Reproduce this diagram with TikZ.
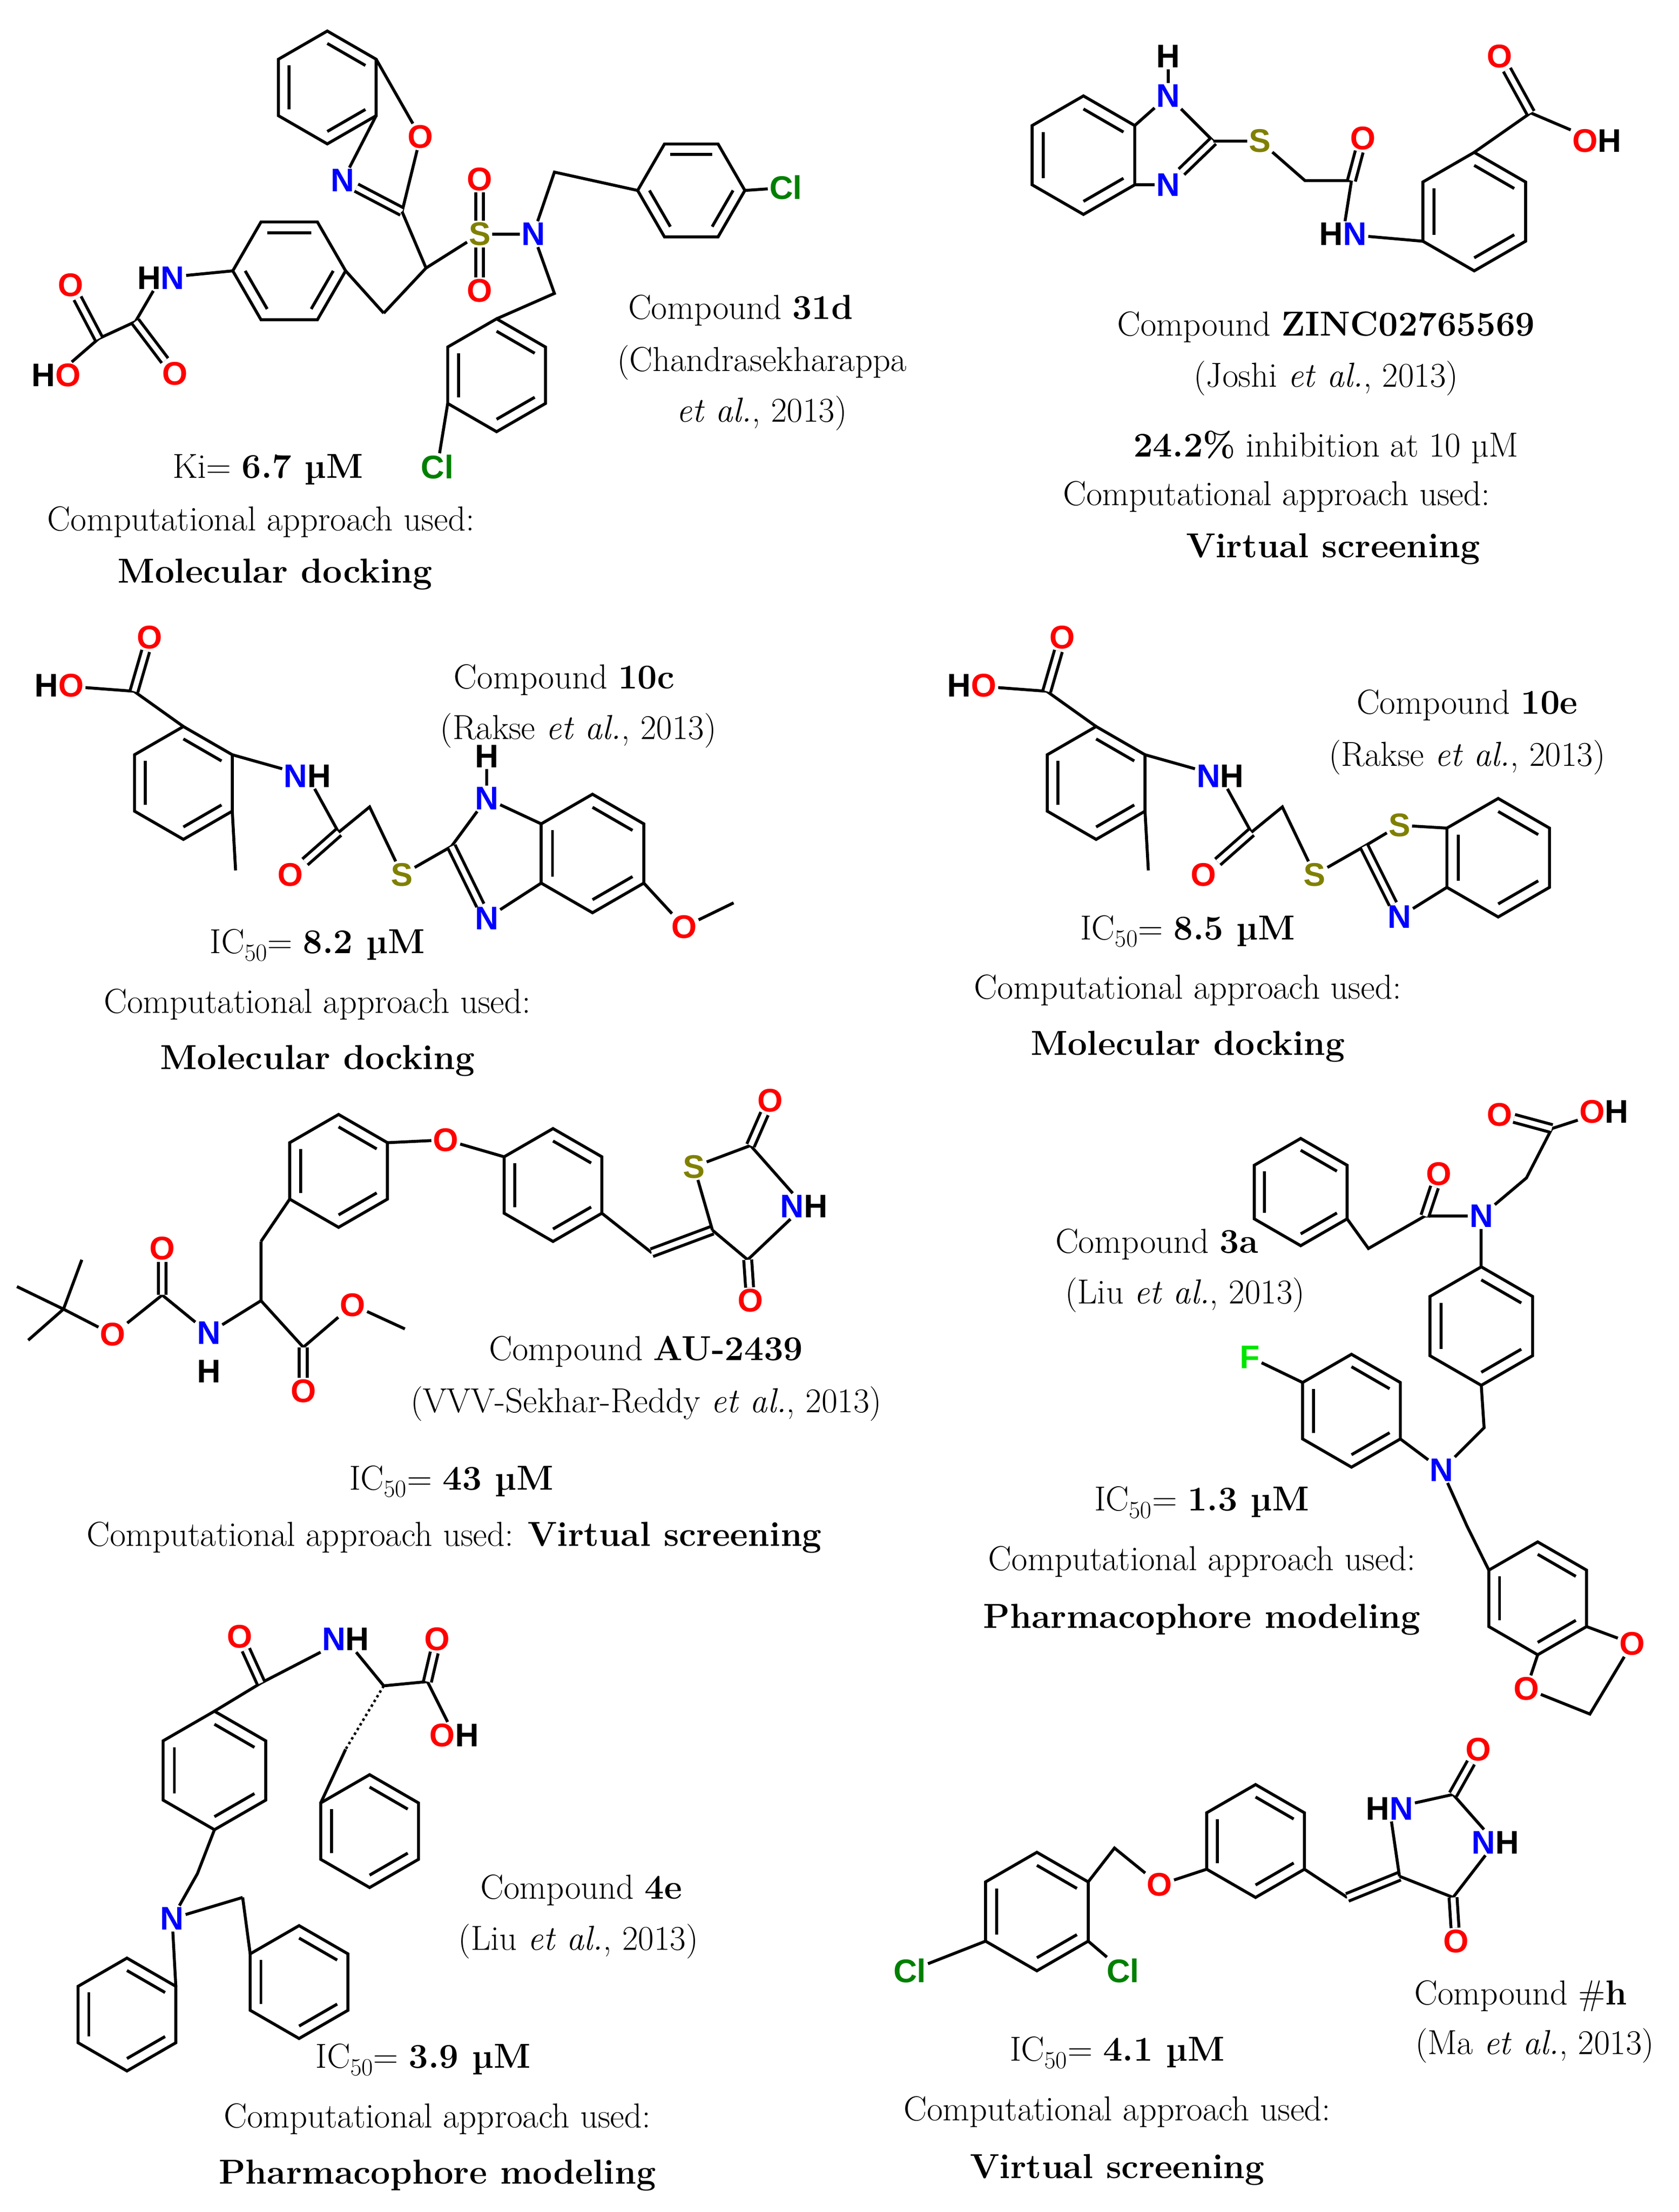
\documentclass[tikz,border=0pt]{standalone}
\usepackage{fontspec}
\usetikzlibrary{calc}
\newfontfamily\af{Liberation Sans}
\newcommand\AF{\af\bfseries\fontsize{33}{33}\selectfont}
\newcommand\TF{\fontsize{35}{40}\selectfont}
\definecolor{Oc}{RGB}{255,0,0}
\definecolor{Nc}{RGB}{0,0,255}
\definecolor{Sc}{RGB}{128,128,0}
\definecolor{Clc}{RGB}{0,128,0}
\definecolor{Fc}{RGB}{0,230,0}
\tikzset{bond/.style={line width=3pt},
 dbl/.style={line width=3pt,double,double distance=5pt},
 atm/.style={font=\AF,inner sep=1.5pt},
 tx/.style={font=\TF,inner sep=0pt}}
\newcommand\hexr[4]{%
 \foreach \k in {1,...,6}{\coordinate (#1-\k) at ($(#2,#3)+({30+60*(\k-1)}:#4)$);}
 \draw[bond] (#1-1)--(#1-2)--(#1-3)--(#1-4)--(#1-5)--(#1-6)--cycle;
 \foreach \k/\j in {1/2,3/4,5/6}{\draw[bond] ($(#2,#3)!0.78!(#1-\k)$)--($(#2,#3)!0.78!(#1-\j)$);}}
\newcommand\hexz[4]{%
 \foreach \k in {1,...,6}{\coordinate (#1-\k) at ($(#2,#3)+({60*(\k-1)}:#4)$);}
 \draw[bond] (#1-1)--(#1-2)--(#1-3)--(#1-4)--(#1-5)--(#1-6)--cycle;
 \foreach \k/\j in {1/2,3/4,5/6}{\draw[bond] ($(#2,#3)!0.78!(#1-\k)$)--($(#2,#3)!0.78!(#1-\j)$);}}
\begin{document}
\begin{tikzpicture}[x=0.05cm,y=-0.05cm]
\useasboundingbox[fill=white] (0,0) rectangle (1190,1568);
% ===== Mol 1 (31d)
\hexr{a}{232}{62}{40}
\node[atm,Oc] (a1o) at (298,97) {O};
\node[atm,Nc] (a1n) at (243,128) {N};
\coordinate (a1c2) at (285,150);
\draw[bond] (a-6)--(a1o)--(a1c2); \draw[bond] (a-1)--(a1n); \draw[dbl] (a1n)--(a1c2);
\coordinate (a1ch) at (302,190); \coordinate (a1ch2) at (272,222);
\node[atm,Sc] (a1s) at (340,166) {S};
\node[atm,Oc] (a1so1) at (340,127) {O};
\node[atm,Oc] (a1so2) at (340,206) {O};
\node[atm,Nc] (a1n2) at (378,166) {N};
\draw[bond] (a1c2)--(a1ch)--(a1s)--(a1n2); \draw[bond] (a1ch)--(a1ch2);
\draw[dbl] (a1s)--(a1so1); \draw[dbl] (a1s)--(a1so2);
\hexz{b}{205}{192}{40}
\draw[bond] (a1ch2)--(b-1);
\node[atm] (a1nh) at (114,197) {H\textcolor{Nc}{N}};
\draw[bond] (b-4)--(a1nh);
\coordinate (a1ca) at (96,228); \coordinate (a1cb) at (70,240);
\node[atm,Oc] (a1oa) at (124,265) {O};
\node[atm,Oc] (a1ob) at (50,202) {O};
\node[atm] (a1oh) at (40,266) {H\textcolor{Oc}{O}};
\draw[bond] (a1nh)--(a1ca)--(a1cb)--(a1oh); \draw[dbl] (a1ca)--(a1oa); \draw[dbl] (a1cb)--(a1ob);
\coordinate (a1m1) at (393,122); \coordinate (a1m2) at (393,208);
\hexz{c}{490}{135}{38}
\draw[bond] (a1n2)--(a1m1)--(c-4);
\node[atm,Clc] (a1cl1) at (557,133) {Cl}; \draw[bond] (c-1)--(a1cl1);
\hexr{d}{352}{266}{40}
\draw[bond] (a1n2)--(a1m2)--(d-5);
\node[atm,Clc] (a1cl2) at (310,331) {Cl}; \draw[bond] (d-3)--(a1cl2);
\node[tx] (t1a) at (525,220) {Compound \textbf{31d}};
\node[tx] (t1b) at (540,257) {(Chandrasekharappa};
\node[tx] (t1c) at (540,293) {\textit{et al.}, 2013)};
\node[tx] (t1d) at (190,333) {Ki= \textbf{6.7 µM}};
\node[tx] (t1e) at (185,370) {Computational approach used:};
\node[tx] (t1f) at (195,407) {\textbf{Molecular docking}};
% ===== Mol 2 (ZINC)
\hexr{e}{768}{110}{42}
\node[atm,Nc] (e1n) at (828,68) {N}; \node[atm] (e1h) at (828,40) {H};
\node[atm,Nc] (e3n) at (828,131) {N};
\coordinate (e2c) at (860,100);
\draw[bond] (e-6)--(e1n)--(e2c); \draw[bond] (e-1)--(e3n); \draw[dbl] (e3n)--(e2c); \draw[bond](e1n)--(e1h);
\node[atm,Sc] (e1s) at (893,100) {S};
\coordinate (e1m) at (925,128); \coordinate (e1c) at (958,128);
\node[atm,Oc] (e1o) at (966,98) {O};
\node[atm] (e1nh) at (952,166) {H\textcolor{Nc}{N}};
\draw[bond] (e2c)--(e1s)--(e1m)--(e1c)--(e1nh); \draw[dbl] (e1c)--(e1o);
\hexr{f}{1045}{150}{42}
\draw[bond] (e1nh)--(f-3);
\coordinate (f1c) at (1085,80);
\node[atm,Oc] (f1o) at (1063,40) {O};
\node[atm] (f1oh) at (1132,100) {\textcolor{Oc}{O}H};
\draw[bond] (f-5)--(f1c)--(f1oh); \draw[dbl] (f1c)--(f1o);
\node[tx] (t2a) at (940,232) {Compound \textbf{ZINC02765569}};
\node[tx] (t2b) at (940,268) {(Joshi \textit{et al.}, 2013)};
\node[tx] (t2c) at (940,317) {\textbf{24.2\%} inhibition at 10 µM};
\node[tx] (t2d) at (905,352) {Computational approach used:};
\node[tx] (t2e) at (945,389) {\textbf{Virtual screening}};
% ===== Mol 3 (10c) and Mol 4 (10e)
\foreach \dx/\nm in {0/g,647/h}{
\begin{scope}[xshift=\dx*0.05cm]
\hexr{\nm}{130}{555}{40}
\coordinate (\nm c) at (95,490);
\node[atm] (\nm oh) at (42,486) {H\textcolor{Oc}{O}};
\node[atm,Oc] (\nm o) at (106,452) {O};
\draw[bond] (\nm-5)--(\nm c)--(\nm oh); \draw[dbl] (\nm c)--(\nm o);
\coordinate (\nm me) at (167,617); \draw[bond] (\nm-1)--(\nm me);
\node[atm] (\nm nh) at (218,550) {\textcolor{Nc}{N}H};
\draw[bond] (\nm-6)--(\nm nh);
\coordinate (\nm cc) at (240,590); \coordinate (\nm m) at (262,572);
\node[atm,Oc] (\nm co) at (206,620) {O};
\node[atm,Sc] (\nm s) at (285,620) {S};
\coordinate (\nm c2) at (320,600);
\draw[bond] (\nm nh)--(\nm cc)--(\nm m)--(\nm s)--(\nm c2); \draw[dbl] (\nm cc)--(\nm co);
\end{scope}}
\node[atm,Nc] (g1n) at (345,566) {N}; \node[atm] (g1h) at (345,536) {H};
\node[atm,Nc] (g3n) at (345,651) {N};
\draw[bond] (g1h)--(g1n)--(gc2); \draw[dbl] (gc2)--(g3n);
\hexr{i}{420}{605}{42}
\draw[bond] (g1n)--(i-4); \draw[bond] (g3n)--(i-3);
\node[atm,Oc] (i1o) at (485,657) {O}; \coordinate (i1me) at (520,640);
\draw[bond] (i-1)--(i1o)--(i1me);
\node[atm,Sc] (h1s) at (992,585) {S};
\node[atm,Nc] (h3n) at (992,650) {N};
\draw[bond] (hc2)--(h1s); \draw[dbl] (hc2)--(h3n);
\hexr{j}{1062}{608}{42}
\draw[bond] (h1s)--(j-4); \draw[bond] (h3n)--(j-3);
\node[tx] (t3a) at (400,482) {Compound \textbf{10c}};
\node[tx] (t3b) at (410,518) {(Rakse \textit{et al.}, 2013)};
\node[tx] (t3c) at (225,670) {IC$_{50}$= \textbf{8.2 µM}};
\node[tx] (t3d) at (225,712) {Computational approach used:};
\node[tx] (t3e) at (225,752) {\textbf{Molecular docking}};
\node[tx] (t4a) at (1040,500) {Compound \textbf{10e}};
\node[tx] (t4b) at (1040,537) {(Rakse \textit{et al.}, 2013)};
\node[tx] (t4c) at (842,660) {IC$_{50}$= \textbf{8.5 µM}};
\node[tx] (t4d) at (842,702) {Computational approach used:};
\node[tx] (t4e) at (842,742) {\textbf{Molecular docking}};
% ===== Mol 5 (AU-2439)
\coordinate (k0) at (45,928); \coordinate (ka) at (12,912); \coordinate (kb) at (20,950); \coordinate (kc) at (58,893);
\draw[bond] (ka)--(k0)--(kb); \draw[bond] (k0)--(kc);
\node[atm,Oc] (k1o) at (80,946) {O};
\coordinate (kcc) at (115,918);
\node[atm,Oc] (k1oo) at (115,885) {O};
\node[atm,Nc] (knh) at (148,945) {N}; \node[atm] (knhh) at (148,972) {H};
\coordinate (kch) at (185,922); \coordinate (kch2) at (185,880);
\draw[bond] (k0)--(k1o)--(kcc)--(knh)--(kch)--(kch2); \draw[dbl] (kcc)--(k1oo);
\hexr{l}{240}{830}{40}
\draw[bond] (kch2)--(l-3);
\node[atm,Oc] (l1o) at (316,808) {O};
\hexr{m}{392}{840}{40}
\draw[bond] (l-6)--(l1o)--(m-4);
\coordinate (mch) at (462,888); \coordinate (mc5) at (505,872);
\draw[bond] (m-1)--(mch); \draw[dbl] (mch)--(mc5);
\node[atm,Sc] (ms) at (492,827) {S};
\coordinate (mc2) at (532,812);
\node[atm,Oc] (mo2) at (546,780) {O};
\node[atm] (mnh) at (570,855) {\textcolor{Nc}{N}H};
\coordinate (mc4) at (530,893);
\node[atm,Oc] (mo4) at (532,922) {O};
\draw[bond] (mc5)--(ms)--(mc2)--(mnh)--(mc4)--(mc5); \draw[dbl] (mc2)--(mo2); \draw[dbl] (mc4)--(mo4);
\coordinate (kec) at (215,955);
\node[atm,Oc] (keo) at (215,986) {O};
\node[atm,Oc] (keo2) at (250,925) {O};
\coordinate (keme) at (287,942);
\draw[bond] (kch)--(kec)--(keo2)--(keme); \draw[dbl] (kec)--(keo);
\node[tx] (t5a) at (458,958) {Compound \textbf{AU-2439}};
\node[tx] (t5b) at (458,995) {(VVV-Sekhar-Reddy \textit{et al.}, 2013)};
\node[tx] (t5c) at (320,1050) {IC$_{50}$= \textbf{43 µM}};
\node[tx] (t5d) at (322,1090) {Computational approach used: \textbf{Virtual screening}};
% ===== Mol 6 (3a)
\hexr{n}{922}{845}{38}
\coordinate (nm) at (970,885); \coordinate (nc) at (1010,862);
\node[atm,Oc] (no) at (1020,832) {O};
\node[atm,Nc] (nn) at (1050,862) {N};
\coordinate (nm2) at (1082,835); \coordinate (nc2) at (1100,800);
\node[atm,Oc] (no2) at (1063,790) {O};
\node[atm] (noh) at (1137,788) {\textcolor{Oc}{O}H};
\draw[bond] (n-1)--(nm)--(nc)--(nn)--(nm2)--(nc2)--(noh); \draw[dbl] (nc)--(no); \draw[dbl] (nc2)--(no2);
\hexr{p}{1050}{940}{42}
\draw[bond] (nn)--(p-5);
\coordinate (pm) at (1052,1012);
\node[atm,Nc] (pn) at (1022,1042) {N};
\draw[bond] (p-2)--(pm)--(pn);
\hexr{q}{958}{1000}{40}
\draw[bond] (pn)--(q-1);
\node[atm,Fc] (qf) at (886,962) {F}; \draw[bond] (q-4)--(qf);
\coordinate (pm2) at (1040,1082);
\hexr{r}{1090}{1133}{40}
\draw[bond] (pn)--(pm2)--(r-4);
\node[atm,Oc] (ro1) at (1157,1165) {O};
\node[atm,Oc] (ro2) at (1082,1197) {O};
\coordinate (rch) at (1127,1215);
\draw[bond] (r-1)--(ro1)--(rch)--(ro2)--(r-2);
\node[tx] (t6a) at (820,882) {Compound \textbf{3a}};
\node[tx] (t6b) at (840,918) {(Liu \textit{et al.}, 2013)};
\node[tx] (t6c) at (852,1065) {IC$_{50}$= \textbf{1.3 µM}};
\node[tx] (t6d) at (852,1107) {Computational approach used:};
\node[tx] (t6e) at (852,1148) {\textbf{Pharmacophore modeling}};
% ===== Mol 7 (4e)
\hexr{s}{152}{1255}{42}
\coordinate (sc) at (185,1193);
\node[atm,Oc] (so) at (170,1160) {O};
\node[atm] (snh) at (245,1162) {\textcolor{Nc}{N}H};
\coordinate (sca) at (272,1195); \coordinate (scc) at (303,1192);
\node[atm,Oc] (so1) at (310,1162) {O};
\node[atm] (soh) at (322,1230) {\textcolor{Oc}{O}H};
\draw[bond] (s-5)--(sc)--(snh)--(sca)--(scc)--(soh); \draw[dbl] (sc)--(so); \draw[dbl] (scc)--(so1);
\coordinate (sm) at (245,1240);
\draw[line width=2.5pt,dash pattern=on 2.5pt off 3pt] (sca)--(sm);
\hexr{u}{262}{1298}{40}
\draw[bond] (sm)--(u-4);
\coordinate (sm2) at (140,1328);
\node[atm,Nc] (sn) at (122,1360) {N};
\coordinate (sm3) at (172,1345);
\draw[bond] (s-2)--(sm2)--(sn)--(sm3);
\hexr{v}{212}{1405}{40}
\draw[bond] (sm3)--(v-4);
\hexr{w}{90}{1428}{40}
\draw[bond] (sn)--(w-6);
\node[tx] (t7a) at (412,1340) {Compound \textbf{4e}};
\node[tx] (t7b) at (410,1376) {(Liu \textit{et al.}, 2013)};
\node[tx] (t7c) at (300,1460) {IC$_{50}$= \textbf{3.9 µM}};
\node[tx] (t7d) at (310,1502) {Computational approach used:};
\node[tx] (t7e) at (310,1542) {\textbf{Pharmacophore modeling}};
% ===== Mol 8 (#h)
\hexr{x}{735}{1355}{42}
\node[atm,Clc] (xcl1) at (645,1397) {Cl}; \draw[bond] (x-3)--(xcl1);
\node[atm,Clc] (xcl2) at (796,1397) {Cl}; \draw[bond] (x-1)--(xcl2);
\coordinate (xm) at (790,1310);
\node[atm,Oc] (xo) at (822,1336) {O};
\hexr{y}{890}{1305}{40}
\draw[bond] (x-6)--(xm)--(xo)--(y-3);
\coordinate (ych) at (955,1345); \coordinate (yc5) at (992,1330);
\draw[bond] (y-1)--(ych); \draw[dbl] (ych)--(yc5);
\node[atm] (yhn) at (985,1282) {H\textcolor{Nc}{N}};
\coordinate (yc2) at (1030,1272);
\node[atm,Oc] (yo2) at (1048,1240) {O};
\node[atm] (ynh) at (1060,1306) {\textcolor{Nc}{N}H};
\coordinate (yc4) at (1030,1345);
\node[atm,Oc] (yo4) at (1032,1376) {O};
\draw[bond] (yc5)--(yhn)--(yc2)--(ynh)--(yc4)--(yc5); \draw[dbl] (yc2)--(yo2); \draw[dbl] (yc4)--(yo4);
\node[tx] (t8a) at (1078,1415) {Compound \#\textbf{h}};
\node[tx] (t8b) at (1088,1450) {(Ma \textit{et al.}, 2013)};
\node[tx] (t8c) at (792,1455) {IC$_{50}$= \textbf{4.1 µM}};
\node[tx] (t8d) at (792,1497) {Computational approach used:};
\node[tx] (t8e) at (792,1538) {\textbf{Virtual screening}};
\end{tikzpicture}
\end{document}
